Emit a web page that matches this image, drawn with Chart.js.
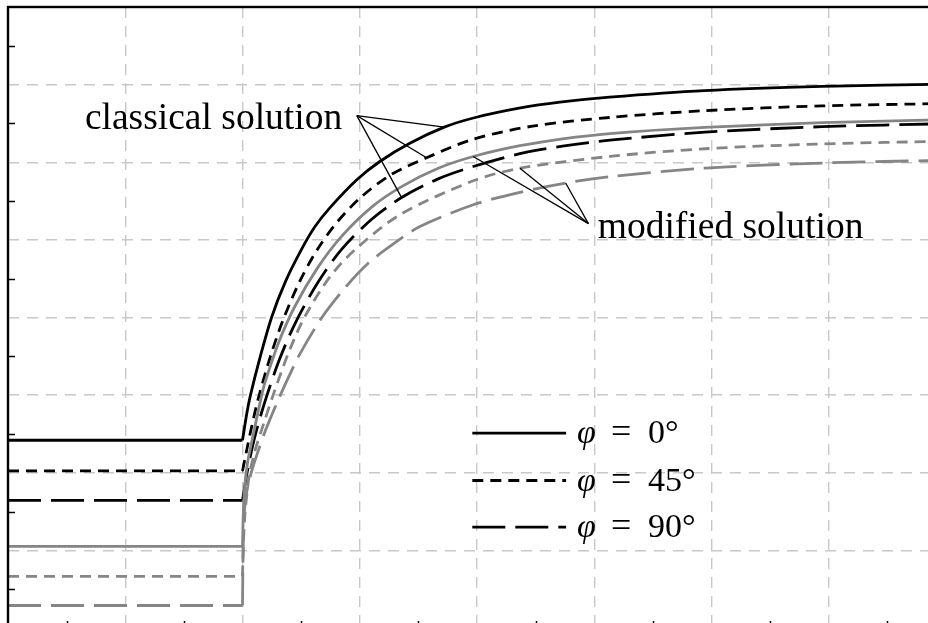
<!DOCTYPE html>
<html>
<head>
<meta charset="utf-8">
<script src="https://cdn.jsdelivr.net/npm/chart.js@4.4.1/dist/chart.umd.min.js"></script>
<style>
  html, body { margin: 0; padding: 0; background: #fff; overflow: hidden; }
  #wrap { position: relative; width: 928px; height: 623px; overflow: hidden; }
  #chart { position: absolute; left: 0; top: 0; }
</style>
</head>
<body>
<div id="wrap"><canvas id="chart" width="960" height="640"></canvas></div>
<script>
// Axis range, grid lines and the tick marks between them
const xRange = [0, 8];
const yRange = [0, 8];
const xTickValues = [0.5, 1.5, 2.5, 3.5, 4.5, 5.5, 6.5, 7.5];
const yTickValues = [0.5, 1.5, 2.5, 3.5, 4.5, 5.5, 6.5, 7.5];

// Classical solution (black)
const classical0X = [0, 2.0, 2.037, 2.068, 2.148, 2.25, 2.369, 2.501, 2.617, 2.741, 2.975, 3.171, 3.427, 3.721, 3.97, 4.37, 4.707, 5.131, 5.941, 6.943, 8.0];
const classical0Y = [2.419, 2.419, 2.768, 3.0, 3.477, 4.01, 4.471, 4.871, 5.168, 5.406, 5.774, 6.01, 6.245, 6.452, 6.57, 6.699, 6.774, 6.839, 6.923, 6.977, 7.006];
const classical45X = [0, 2.0, 2.034, 2.068, 2.133, 2.239, 2.346, 2.486, 2.636, 2.81, 3.024, 3.28, 3.57, 3.968, 4.474, 5.134, 5.944, 6.943, 8.0];
const classical45Y = [2.023, 2.023, 2.277, 2.523, 2.948, 3.503, 3.968, 4.458, 4.871, 5.235, 5.568, 5.852, 6.058, 6.297, 6.465, 6.577, 6.665, 6.726, 6.757];
const classical90X = [0, 2.0, 2.043, 2.102, 2.19, 2.31, 2.446, 2.64, 2.845, 3.109, 3.357, 3.664, 3.968, 4.366, 4.73, 5.134, 5.944, 6.943, 8.0];
const classical90Y = [1.645, 1.645, 2.032, 2.445, 2.91, 3.439, 3.916, 4.445, 4.877, 5.276, 5.545, 5.783, 5.945, 6.11, 6.208, 6.284, 6.387, 6.458, 6.497];

// Modified solution (grey)
const modified0X = [0, 2.0, 2.008, 2.02, 2.041, 2.062, 2.105, 2.162, 2.19, 2.31, 2.446, 2.64, 2.845, 3.109, 3.357, 3.664, 3.968, 4.366, 4.73, 5.134, 5.944, 6.943, 8.0];
const modified0Y = [1.052, 1.052, 1.516, 1.839, 2.11, 2.277, 2.587, 2.987, 3.155, 3.684, 4.142, 4.639, 5.045, 5.431, 5.686, 5.919, 6.074, 6.213, 6.302, 6.37, 6.448, 6.51, 6.548];
const modified45X = [0, 2.0, 2.007, 2.02, 2.041, 2.062, 2.113, 2.182, 2.261, 2.395, 2.531, 2.745, 2.958, 3.342, 3.968, 4.366, 5.134, 5.944, 6.943, 8.0];
const modified45Y = [0.665, 0.665, 1.065, 1.452, 1.774, 2.006, 2.316, 2.639, 3.0, 3.555, 4.01, 4.523, 4.871, 5.323, 5.761, 5.923, 6.075, 6.174, 6.236, 6.271];
const modified90X = [0, 2.0, 2.007, 2.02, 2.045, 2.088, 2.133, 2.19, 2.247, 2.304, 2.375, 2.489, 2.677, 2.873, 3.072, 3.299, 3.513, 3.968, 4.366, 4.756, 5.134, 5.944, 6.943, 8.0];
const modified90Y = [0.29, 0.29, 1.129, 1.581, 1.826, 2.071, 2.277, 2.523, 2.735, 2.935, 3.174, 3.529, 4.0, 4.381, 4.699, 4.961, 5.172, 5.452, 5.613, 5.732, 5.813, 5.925, 5.99, 6.026];

// Legend and annotation texts
const angleLabels = ["0°", "45°", "90°"];
const classicalLabel = "classical solution";
const modifiedLabel = "modified solution";

// Annotation anchors in data units
const classicalTextPos = [2.85, 6.43];
const classicalFrom = [2.975, 6.60];
const classicalTargets = [[3.721, 6.452], [3.57, 6.058], [3.357, 5.545]];
const modifiedTextPos = [5.03, 5.03];
const modifiedFrom = [4.95, 5.21];
const modifiedTargets = [[3.968, 6.074], [4.366, 5.923], [4.756, 5.732]];
const legendLineX = [3.96, 4.76];
const legendRowY = [2.51, 1.90, 1.30];

const BLACK = "#000000";
const GREY = "#858585";
const dashStyles = [[], [11, 7], [33, 10]];
const LINE_W = 2.8;

function toPoints(xs, ys) {
  return xs.map((x, i) => ({ x: x, y: ys[i] }));
}

// Each curve: flat part up to the jump, then a smooth rise
function makeDatasets(xs, ys, color, dash) {
  const pts = toPoints(xs, ys);
  const common = {
    borderColor: color,
    borderWidth: LINE_W,
    borderDash: dash,
    pointRadius: 0,
    fill: false,
  };
  return [
    Object.assign({ data: pts.slice(0, 2), tension: 0 }, common),
    Object.assign({ data: pts.slice(1), tension: 0.3 }, common),
  ];
}

const datasets = [].concat(
  makeDatasets(modified0X, modified0Y, GREY, dashStyles[0]),
  makeDatasets(modified45X, modified45Y, GREY, dashStyles[1]),
  makeDatasets(modified90X, modified90Y, GREY, dashStyles[2]),
  makeDatasets(classical0X, classical0Y, BLACK, dashStyles[0]),
  makeDatasets(classical45X, classical45Y, BLACK, dashStyles[1]),
  makeDatasets(classical90X, classical90Y, BLACK, dashStyles[2])
);

// Frame with inward tick marks
const framePlugin = {
  id: "frame",
  afterDatasetsDraw(chart) {
    const ctx = chart.ctx;
    const a = chart.chartArea;
    const xs = chart.scales.x;
    const ys = chart.scales.y;
    ctx.save();
    ctx.strokeStyle = "#000";
    ctx.lineWidth = 1.5;
    xTickValues.forEach((v) => {
      const px = Math.round(xs.getPixelForValue(v)) + 0.5;
      ctx.beginPath();
      ctx.moveTo(px, a.bottom);
      ctx.lineTo(px, a.bottom - 7);
      ctx.stroke();
    });
    yTickValues.forEach((v) => {
      const py = Math.round(ys.getPixelForValue(v)) + 0.5;
      ctx.beginPath();
      ctx.moveTo(a.left, py);
      ctx.lineTo(a.left + 7, py);
      ctx.stroke();
    });
    ctx.lineWidth = 2.4;
    ctx.strokeRect(a.left, a.top, a.right - a.left, a.bottom - a.top);
    ctx.restore();
  },
};

// Labels, leader lines and the legend
const notesPlugin = {
  id: "notes",
  afterDraw(chart) {
    const ctx = chart.ctx;
    const xs = chart.scales.x;
    const ys = chart.scales.y;
    const px = (p) => [xs.getPixelForValue(p[0]), ys.getPixelForValue(p[1])];

    ctx.save();
    ctx.fillStyle = "#000";
    ctx.strokeStyle = "#000";
    ctx.textBaseline = "alphabetic";
    ctx.font = '37.5px "Liberation Serif"';

    let p = px(classicalTextPos);
    ctx.textAlign = "right";
    ctx.fillText(classicalLabel, p[0], p[1]);
    p = px(modifiedTextPos);
    ctx.textAlign = "left";
    ctx.fillText(modifiedLabel, p[0], p[1]);

    ctx.lineWidth = 1.3;
    const leaders = [
      [classicalFrom, classicalTargets],
      [modifiedFrom, modifiedTargets],
    ];
    leaders.forEach((l) => {
      const from = px(l[0]);
      l[1].forEach((t) => {
        const to = px(t);
        ctx.beginPath();
        ctx.moveTo(from[0], from[1]);
        ctx.lineTo(to[0], to[1]);
        ctx.stroke();
      });
    });

    // Legend rows for the three angles
    const x0 = xs.getPixelForValue(legendLineX[0]);
    const x1 = xs.getPixelForValue(legendLineX[1]);
    legendRowY.forEach((v, i) => {
      const y = ys.getPixelForValue(v);
      ctx.lineWidth = LINE_W;
      ctx.setLineDash(dashStyles[i]);
      ctx.beginPath();
      ctx.moveTo(x0, y);
      ctx.lineTo(x1, y);
      ctx.stroke();
      ctx.setLineDash([]);
      ctx.textAlign = "left";
      ctx.font = 'italic 34px "Liberation Serif"';
      ctx.fillText("φ", x1 + 11, y + 10);
      ctx.font = '36px "Liberation Serif"';
      ctx.fillText("=", x1 + 45, y + 10);
      ctx.font = '34px "Liberation Serif"';
      ctx.fillText(angleLabels[i], x1 + 82, y + 10);
    });
    ctx.restore();
  },
};

const chart = new Chart(document.getElementById("chart").getContext("2d"), {
  type: "line",
  data: { datasets: datasets },
  options: {
    responsive: false,
    animation: false,
    devicePixelRatio: 1,
    layout: { padding: { left: 8, top: 7, right: 14, bottom: 12 } },
    plugins: {
      legend: { display: false },
      tooltip: { enabled: false },
    },
    scales: {
      x: {
        type: "linear",
        min: xRange[0],
        max: xRange[1],
        ticks: { display: false, stepSize: 1 },
        grid: { color: "#c8c8c8", lineWidth: 1.4, drawTicks: false },
        border: { display: false, dash: [11, 8] },
      },
      y: {
        type: "linear",
        min: yRange[0],
        max: yRange[1],
        ticks: { display: false, stepSize: 1 },
        grid: { color: "#c8c8c8", lineWidth: 1.4, drawTicks: false },
        border: { display: false, dash: [11, 8] },
      },
    },
  },
  plugins: [framePlugin, notesPlugin],
});
</script>
</body>
</html>
